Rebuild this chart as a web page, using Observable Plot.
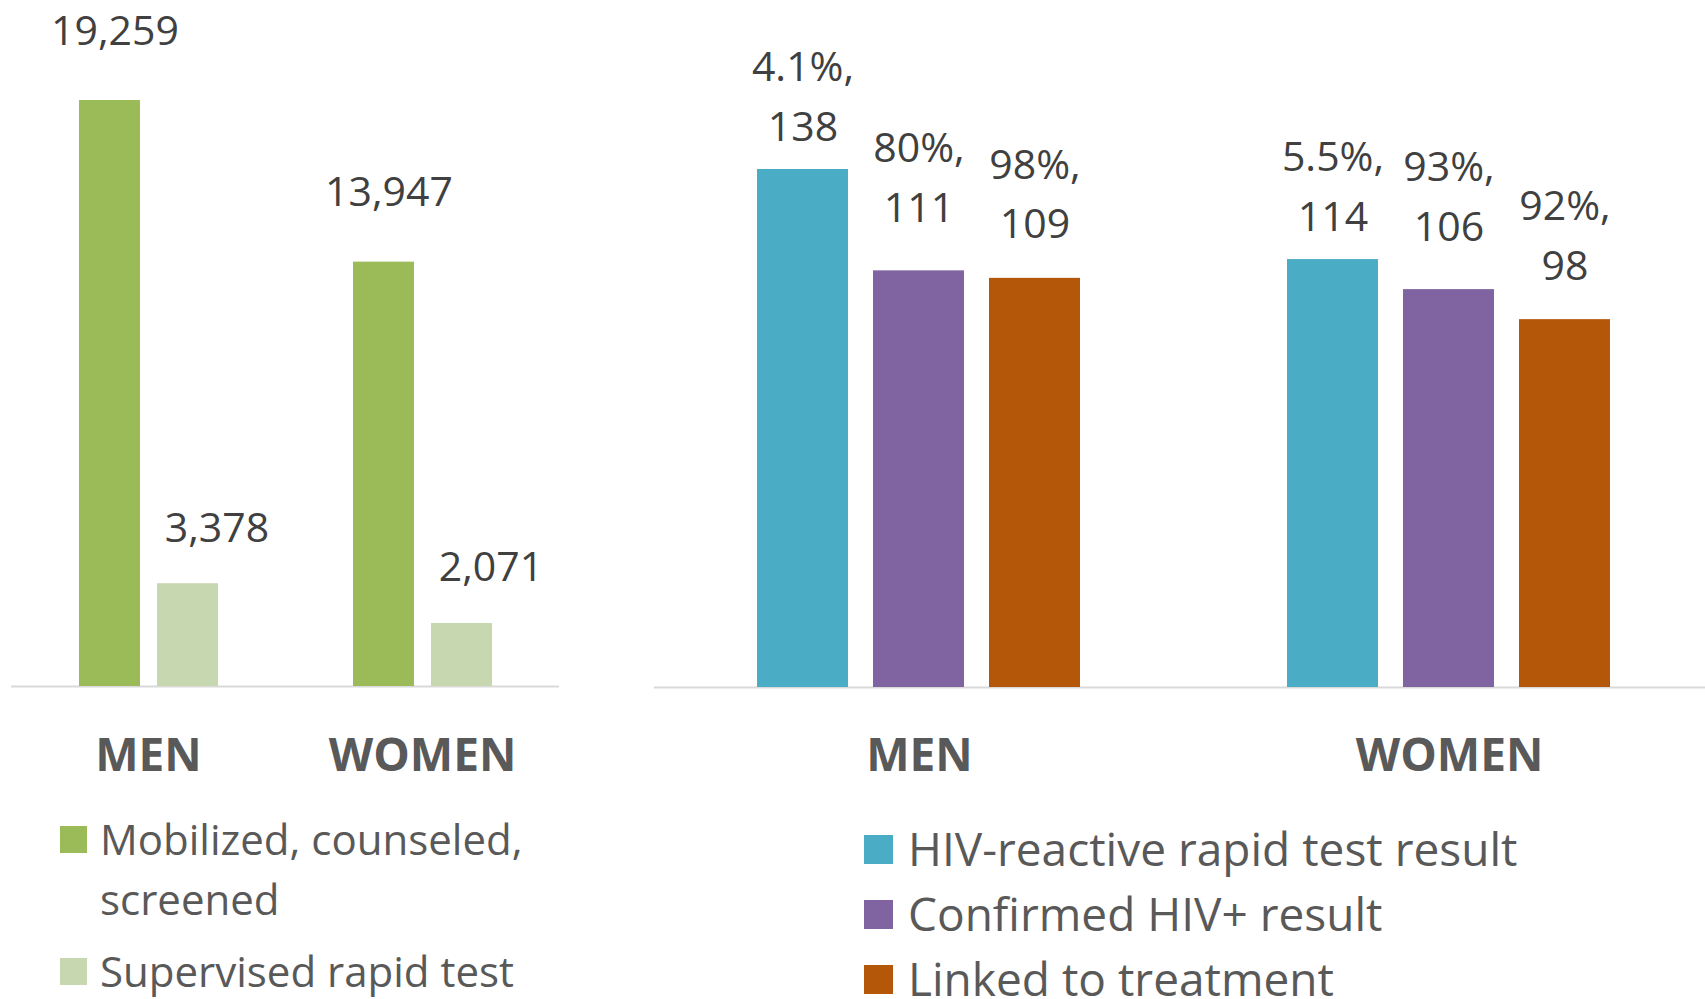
<!DOCTYPE html>
<html>
<head>
<meta charset="utf-8">
<script src="https://cdn.jsdelivr.net/npm/d3@7"></script>
<script src="https://cdn.jsdelivr.net/npm/@observablehq/plot@0.6"></script>
<style>
  html, body { margin: 0; padding: 0; background: #fff; width: 1705px; height: 999px; overflow: hidden; font-family: "Open Sans", sans-serif; }
  #left { position: absolute; left: 0; top: 0; width: 570px; }
  #right { position: absolute; left: 640px; top: 0; width: 1074px; }
  .legend { position: absolute; color: #595959; }
  .item { display: flex; align-items: flex-start; }
  .sw { flex: none; }
  #legLeft { left: 60px; top: 809px; font-size: 42px; line-height: 60px; }
  #legLeft .sw { width: 27px; height: 27px; margin-top: 17px; margin-right: 13px; }
  #legLeft .item + .item { margin-top: 12px; }
  #legLeft .txt { width: 470px; }
  #legRight { left: 864px; top: 816px; font-size: 46px; line-height: 65px; }
  #legRight .sw { width: 29px; height: 29px; margin-top: 19px; margin-right: 15px; }
  #legRight .txt { white-space: nowrap; }
</style>
</head>
<body>
<div id="left"></div>
<div id="right"></div>
<div id="legLeft" class="legend"></div>
<div id="legRight" class="legend"></div>
<script>
// ---- data ----
const groups = ["MEN", "WOMEN"];

const leftSeries = ["Mobilized, counseled, screened", "Supervised rapid test"];
const leftColors = ["#9BBB59", "#C7D7AF"];
const leftMen = [19259, 3378];
const leftWomen = [13947, 2071];

const rightSeries = ["HIV-reactive rapid test result", "Confirmed HIV+ result", "Linked to treatment"];
const rightColors = ["#4BACC6", "#8064A2", "#B55708"];
const rightMenCount = [138, 111, 109];
const rightWomenCount = [114, 106, 98];
const rightMenPct = ["4.1%", "80%", "98%"];
const rightWomenPct = ["5.5%", "93%", "92%"];

// ---- tables ----
const leftData = groups.flatMap((g, gi) => leftSeries.map((s, si) => ({
  group: g, series: s, value: (gi === 0 ? leftMen : leftWomen)[si]
})));
const rightData = groups.flatMap((g, gi) => rightSeries.map((s, si) => ({
  group: g, series: s,
  count: (gi === 0 ? rightMenCount : rightWomenCount)[si],
  pct: (gi === 0 ? rightMenPct : rightWomenPct)[si]
})));

const fmt = d3.format(",");
const baseStyle = {
  fontFamily: "'Open Sans', sans-serif",
  fontSize: "46px",
  fontWeight: "bold",
  color: "#595959",
  background: "transparent",
  overflow: "visible"
};

// label offsets (style)
const leftLabelDy = [-56, -42];
const leftLabelDx = [5, 29];
const rightLabelDy = [-29, -49, -40];

const leftPlot = Plot.plot({
  width: 570, height: 790,
  marginTop: 100, marginBottom: 104, marginLeft: 11, marginRight: 11,
  style: baseStyle,
  fx: {domain: groups, padding: 0, axis: "bottom", tickSize: 0, tickPadding: 52, label: null},
  x: {domain: leftSeries, paddingInner: 0.218, paddingOuter: 0.865, axis: null},
  y: {domain: [0, d3.max(leftData, d => d.value)], axis: null},
  color: {domain: leftSeries, range: leftColors},
  marks: [
    Plot.ruleY([0], {stroke: "#D9D9D9", strokeWidth: 2}),
    Plot.barY(leftData, {fx: "group", x: "series", y: "value", fill: "series"}),
    ...leftSeries.map((s, i) => Plot.text(leftData.filter(d => d.series === s), {
      fx: "group", x: "series", y: "value", text: d => fmt(d.value),
      lineAnchor: "bottom", dy: leftLabelDy[i], dx: leftLabelDx[i],
      fontSize: 41, fontWeight: "normal", fill: "#404040"
    }))
  ]
});
document.getElementById("left").append(leftPlot);

const rightPlot = Plot.plot({
  width: 1074, height: 791,
  marginTop: 169, marginBottom: 104, marginLeft: 14, marginRight: 0,
  style: baseStyle,
  fx: {domain: groups, padding: 0, axis: "bottom", tickSize: 0, tickPadding: 51, label: null},
  x: {domain: rightSeries, paddingInner: 0.2137, paddingOuter: 0.872, axis: null},
  y: {domain: [0, d3.max(rightData, d => d.count)], axis: null},
  color: {domain: rightSeries, range: rightColors},
  marks: [
    Plot.ruleY([0], {stroke: "#D9D9D9", strokeWidth: 2}),
    Plot.barY(rightData, {fx: "group", x: "series", y: "count", fill: "series"}),
    ...rightSeries.map((s, i) => Plot.text(rightData.filter(d => d.series === s), {
      fx: "group", x: "series", y: "count", text: d => `${d.pct},\n${d.count}`,
      lineAnchor: "bottom", lineHeight: 1.45, dy: rightLabelDy[i],
      fontSize: 41, fontWeight: "normal", fill: "#404040"
    }))
  ]
});
document.getElementById("right").append(rightPlot);

// ---- legends ----
function buildLegend(el, names, colors) {
  names.forEach((n, i) => {
    const item = document.createElement("div");
    item.className = "item";
    const sw = document.createElement("div");
    sw.className = "sw";
    sw.style.background = colors[i];
    const t = document.createElement("div");
    t.className = "txt";
    t.textContent = n;
    item.append(sw, t);
    el.append(item);
  });
}
buildLegend(document.getElementById("legLeft"), leftSeries, leftColors);
buildLegend(document.getElementById("legRight"), rightSeries, rightColors);
</script>
</body>
</html>
